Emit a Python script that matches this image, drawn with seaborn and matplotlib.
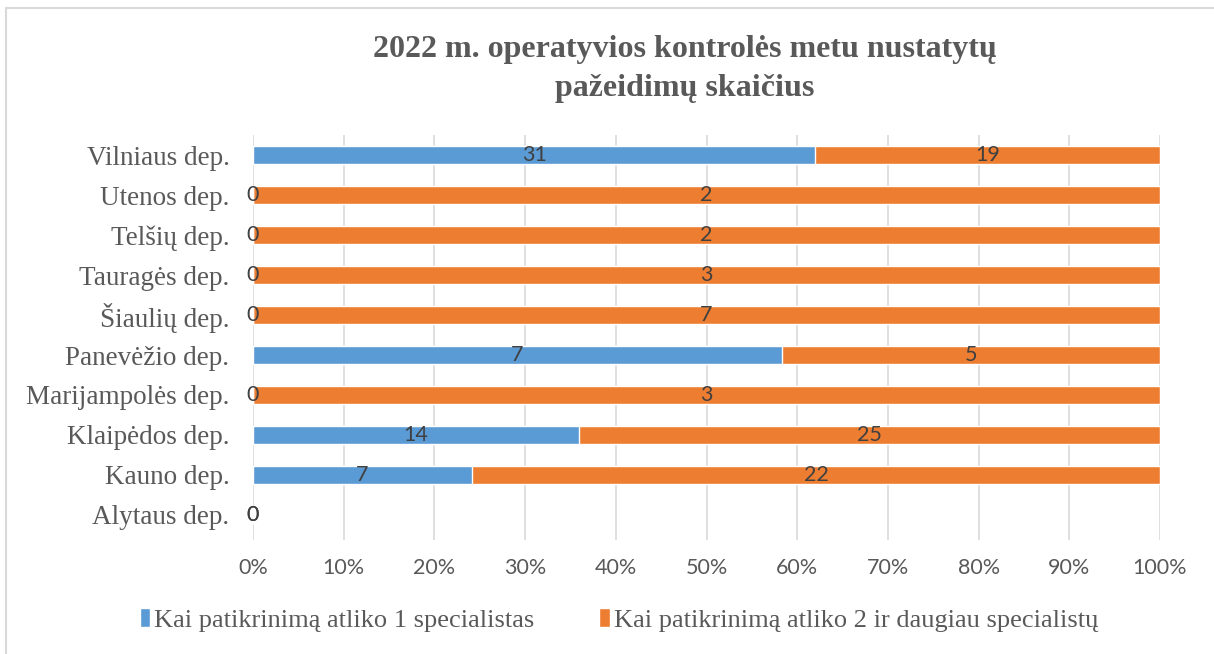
import numpy as np
import pandas as pd
import matplotlib
matplotlib.use("Agg")
import matplotlib.pyplot as plt
from matplotlib.lines import Line2D
from matplotlib.patches import Patch
import seaborn as sns

# Data (top to bottom as shown)
departments = ["Vilniaus dep.", "Utenos dep.", "Telšių dep.", "Tauragės dep.",
               "Šiaulių dep.", "Panevėžio dep.", "Marijampolės dep.",
               "Klaipėdos dep.", "Kauno dep.", "Alytaus dep."]
one_spec = [31, 0, 0, 0, 0, 7, 0, 14, 7, 0]
two_plus = [19, 2, 2, 3, 7, 5, 3, 25, 22, 0]

series_names = ["Kai patikrinimą atliko 1 specialistas",
                "Kai patikrinimą atliko 2 ir daugiau specialistų"]

blue = "#5B9BD5"
orange = "#ED7D31"
grey_text = "#595959"

df = pd.DataFrame({"dep": departments, "one": one_spec, "two": two_plus})
df["total"] = df["one"] + df["two"]
df["one_pct"] = np.where(df["total"] > 0, df["one"] / df["total"].replace(0, 1) * 100, 0)
df["full_pct"] = np.where(df["total"] > 0, 100.0, 0)

sns.set_theme(style="white")
plt.rcParams["font.family"] = ["Liberation Serif", "DejaVu Serif"]

fig = plt.figure(figsize=(12.14, 6.54), dpi=100)
ax = fig.add_axes([253 / 1214, 1 - 540 / 654, (1160 - 253) / 1214, 405 / 654])

# orange full stack first, then blue share over it
sns.barplot(data=df, y="dep", x="full_pct", order=departments, color=orange,
            width=0.44, ax=ax, orient="h", saturation=1, zorder=3)
sns.barplot(data=df, y="dep", x="one_pct", order=departments, color=blue,
            width=0.44, ax=ax, orient="h", saturation=1, zorder=4)

ax.set_xlim(0, 100)
ax.set_ylim(9.625, -0.5)
ax.set_xticks(np.arange(0, 101, 10))
ax.set_xticklabels([f"{v}%" for v in range(0, 101, 10)],
                   fontfamily="Lato", fontsize=15.5, color=grey_text)
ax.set_yticks(range(len(departments)))
ax.set_yticklabels(departments, fontsize=19.5, color=grey_text)
ax.tick_params(axis="x", length=0, pad=13)
ax.tick_params(axis="y", length=0, pad=17)
ax.set_xlabel("")
ax.set_ylabel("")
ax.grid(axis="x", color="#D9D9D9", linewidth=1.2, zorder=0)
ax.grid(axis="y", visible=False)
for s in ax.spines.values():
    s.set_visible(False)

# data labels
for i, row in df.iterrows():
    one_c = row["one_pct"] / 2
    two_c = row["one_pct"] + (row["full_pct"] - row["one_pct"]) / 2
    ax.text(one_c, i, str(row["one"]), ha="center", va="center",
            fontfamily="Lato", fontsize=15.5, color="#404040", zorder=5)
    ax.text(two_c, i, str(row["two"]), ha="center", va="center",
            fontfamily="Lato", fontsize=15.5, color="#404040", zorder=5)

fig.text(685 / 1214, 1 - 69 / 654,
         "2022 m. operatyvios kontrolės metu nustatytų\npažeidimų skaičius",
         ha="center", va="center", fontsize=23, fontweight="bold",
         color=grey_text, linespacing=1.45)

handles = [Patch(facecolor=blue), Patch(facecolor=orange)]
fig.legend(handles, series_names, loc="center", bbox_to_anchor=(619 / 1214, 1 - 620 / 654),
           ncol=2, frameon=False, fontsize=19, handlelength=0.4, handleheight=0.75,
           handletextpad=0.15, columnspacing=2.45, labelcolor=grey_text)

# chart frame
fig.add_artist(Line2D([6 / 1214, 6 / 1214], [0, 1 - 8 / 654], color="#D9D9D9", lw=1.5,
                      transform=fig.transFigure))
fig.add_artist(Line2D([6 / 1214, 1], [1 - 8 / 654, 1 - 8 / 654], color="#D9D9D9", lw=1.5,
                      transform=fig.transFigure))

fig.savefig("out.png", dpi=100)
